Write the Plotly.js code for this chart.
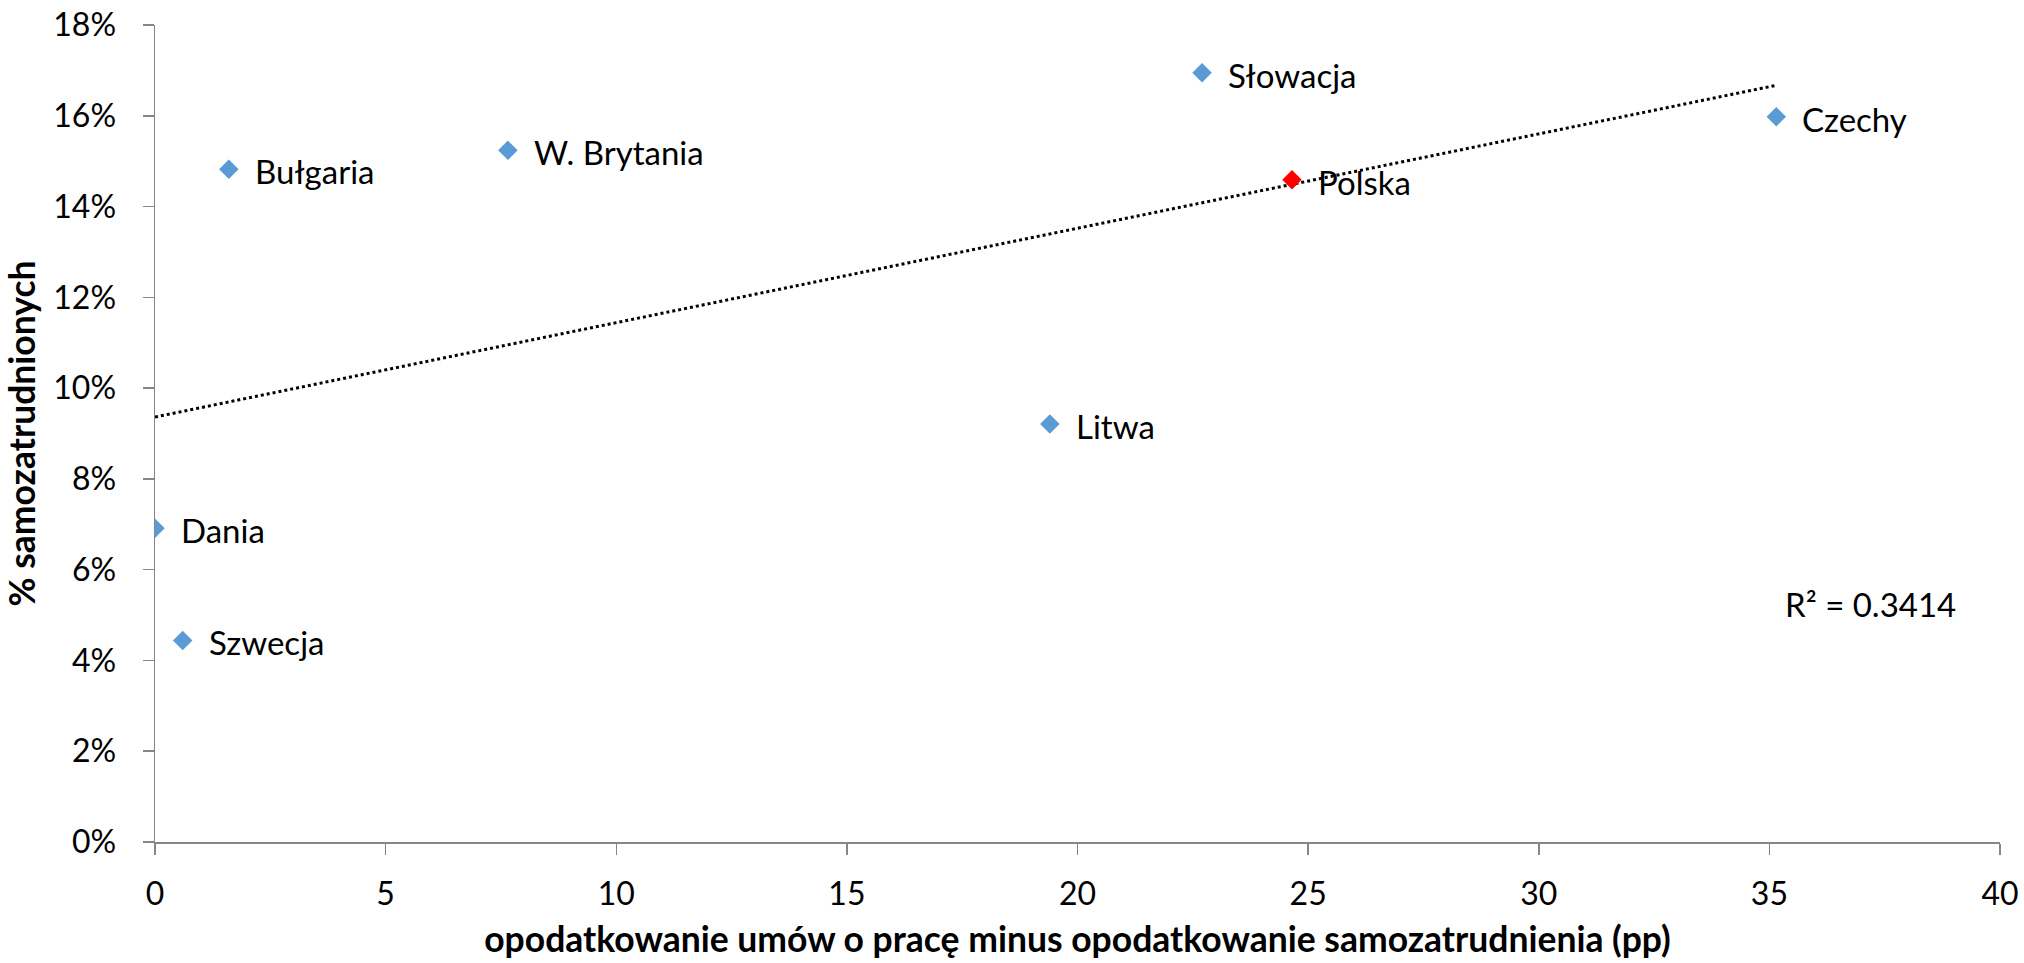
<!DOCTYPE html>
<html>
<head>
<meta charset="utf-8">
<script src="https://cdn.plot.ly/plotly-3.0.1.min.js"></script>
<style>html,body{margin:0;padding:0;background:#fff;}#chart{width:2024px;height:963px;}</style>
</head>
<body>
<div id="chart"></div>
<script>
// Data
const countries = ["Bułgaria", "W. Brytania", "Słowacja", "Czechy", "Polska", "Litwa", "Dania", "Szwecja"];
const taxGap = [1.6, 7.65, 22.7, 35.15, 24.65, 19.4, 0.0, 0.6];           // pp
const selfEmployed = [0.1482, 0.1524, 0.1695, 0.1598, 0.1459, 0.0921, 0.0691, 0.0444];
const highlight = "Polska";
const r2Text = "R² = 0.3414";
const xTicks = [0, 5, 10, 15, 20, 25, 30, 35, 40];
const yTicks = [0, 0.02, 0.04, 0.06, 0.08, 0.10, 0.12, 0.14, 0.16, 0.18];

// Linear least-squares trendline (as Excel computes it)
const n = taxGap.length;
const mx = taxGap.reduce((a, b) => a + b, 0) / n;
const my = selfEmployed.reduce((a, b) => a + b, 0) / n;
let sxy = 0, sxx = 0;
for (let i = 0; i < n; i++) { sxy += (taxGap[i] - mx) * (selfEmployed[i] - my); sxx += (taxGap[i] - mx) ** 2; }
const slope = sxy / sxx, intercept = my - slope * mx;
const xMin = Math.min(...taxGap), xMax = Math.max(...taxGap);

const blue = "#5B9BD5", red = "#FF0000";
const colors = countries.map(c => c === highlight ? red : blue);
const FONT = "Lato, 'Noto Sans', sans-serif";

const traces = [
  {
    x: [xMin, xMax], y: [intercept + slope * xMin, intercept + slope * xMax],
    mode: "lines", line: {color: "#000", width: 3, dash: "dot"},
    hoverinfo: "skip", showlegend: false
  },
  {
    x: taxGap, y: selfEmployed, mode: "markers",
    marker: {symbol: "diamond", size: 15, color: colors, line: {width: 0}},
    text: countries, showlegend: false
  }
];

const annotations = countries.map((c, i) => ({
  x: taxGap[i], y: selfEmployed[i], xref: "x", yref: "y",
  text: c, showarrow: false, xanchor: "left", yanchor: "middle",
  xshift: 24, yshift: -2, font: {family: FONT, size: 33, color: "#000"}
}));
annotations.push({
  x: 37.2, y: 0.0525, xref: "x", yref: "y", text: r2Text, showarrow: false,
  xanchor: "center", yanchor: "middle", font: {family: FONT, size: 33, color: "#000"}
});

const layout = {
  width: 2024, height: 963,
  margin: {l: 155, r: 24, t: 25, b: 121},
  paper_bgcolor: "#fff", plot_bgcolor: "#fff",
  font: {family: FONT, size: 32, color: "#000"},
  xaxis: {
    range: [0, 40], tickvals: xTicks, ticktext: xTicks.map(String),
    showgrid: false, zeroline: false, showline: true, linecolor: "#868686", linewidth: 1.5,
    ticks: "outside", ticklen: 11, tickcolor: "#868686", tickwidth: 1.5,
    ticklabelstandoff: 12,
    tickfont: {family: FONT, size: 32, color: "#000"},
    title: {text: "opodatkowanie umów o pracę minus opodatkowanie samozatrudnienia (pp)",
            font: {family: FONT, size: 35.5, color: "#000", weight: "bold"}, standoff: 16}
  },
  yaxis: {
    range: [0, 0.18], tickvals: yTicks, tickformat: ".0%",
    showgrid: false, zeroline: false, showline: true, linecolor: "#868686", linewidth: 1.5,
    ticks: "outside", ticklen: 11, tickcolor: "#868686", tickwidth: 1.5,
    ticklabelstandoff: 20,
    tickfont: {family: FONT, size: 32, color: "#000"},
    title: {text: "% samozatrudnionych",
            font: {family: FONT, size: 35.5, color: "#000", weight: "bold"}, standoff: 10}
  },
  annotations: annotations,
  showlegend: false
};

Plotly.newPlot("chart", traces, layout, {displayModeBar: false, staticPlot: true});
</script>
</body>
</html>
